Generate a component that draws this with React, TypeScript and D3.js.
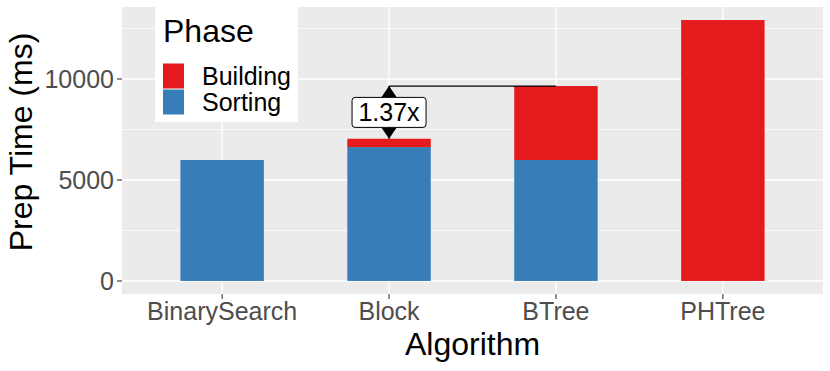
import React, { useRef, useEffect } from 'react';
import { select, scaleLinear, scalePoint, stack, max } from 'd3';

const algorithms = ['BinarySearch', 'Block', 'BTree', 'PHTree'];
const phases = ['Sorting', 'Building'];
const sortingMs = [5990, 6630, 5990, 0];
const buildingMs = [0, 412, 3662, 12920];
const yTicks = [0, 5000, 10000];
const yMinorTicks = [2500, 7500, 12500];
const phaseColors: Record<string, string> = { Building: '#E41A1C', Sorting: '#377EB8' };
// legend order top to bottom
const legendOrder = ['Building', 'Sorting'];
// speedup annotation between these two
const annotFrom = 'Block';
const annotTo = 'BTree';

const W = 830;
const H = 371;
const FONT = '"Liberation Sans", Arial, Helvetica, sans-serif';

export default function App() {
  const svgRef = useRef<SVGSVGElement>(null);

  useEffect(() => {
    const svg = select(svgRef.current);
    svg.selectAll('*').remove();

    const panel = { left: 122, right: 823, top: 7, bottom: 294 };

    const rows = algorithms.map((a, i) => ({ algo: a, Sorting: sortingMs[i], Building: buildingMs[i] }));
    const layers = stack<any>().keys(phases)(rows);
    const top = max(layers, (l) => max(l, (s) => s[1])) as number;

    const yScale = scaleLinear()
      .domain([-0.05 * top, 1.05 * top])
      .range([panel.bottom, panel.top]);

    const xScale = scalePoint<string>()
      .domain(algorithms)
      .range([panel.left, panel.right])
      .padding(0.6);
    const barW = xScale.step() * 0.5;

    // panel background
    svg.append('rect')
      .attr('x', panel.left).attr('y', panel.top)
      .attr('width', panel.right - panel.left).attr('height', panel.bottom - panel.top)
      .attr('fill', '#EBEBEB');

    // grid
    svg.selectAll('.minor').data(yMinorTicks).join('line')
      .attr('x1', panel.left).attr('x2', panel.right)
      .attr('y1', (d) => yScale(d)).attr('y2', (d) => yScale(d))
      .attr('stroke', '#fff').attr('stroke-width', 0.7);
    svg.selectAll('.majorY').data(yTicks).join('line')
      .attr('x1', panel.left).attr('x2', panel.right)
      .attr('y1', (d) => yScale(d)).attr('y2', (d) => yScale(d))
      .attr('stroke', '#fff').attr('stroke-width', 1.4);
    svg.selectAll('.majorX').data(algorithms).join('line')
      .attr('x1', (d) => xScale(d)!).attr('x2', (d) => xScale(d)!)
      .attr('y1', panel.top).attr('y2', panel.bottom)
      .attr('stroke', '#fff').attr('stroke-width', 1.4);

    // bars
    svg.selectAll('.layer').data(layers).join('g')
      .attr('fill', (l) => phaseColors[l.key])
      .selectAll('rect').data((l) => l).join('rect')
      .attr('x', (s: any) => xScale(s.data.algo)! - barW / 2)
      .attr('width', barW)
      .attr('y', (s) => yScale(s[1]))
      .attr('height', (s) => yScale(s[0]) - yScale(s[1]));

    // axes ticks + labels
    const yAx = svg.append('g');
    yTicks.forEach((t) => {
      yAx.append('line').attr('x1', panel.left - 5).attr('x2', panel.left)
        .attr('y1', yScale(t)).attr('y2', yScale(t)).attr('stroke', '#333').attr('stroke-width', 1.1);
      yAx.append('text').attr('x', panel.left - 8).attr('y', yScale(t)).attr('dy', '0.36em')
        .attr('text-anchor', 'end').attr('fill', '#4D4D4D')
        .style('font', `25px ${FONT}`).text(t);
    });
    const xAx = svg.append('g');
    algorithms.forEach((a) => {
      xAx.append('line').attr('x1', xScale(a)!).attr('x2', xScale(a)!)
        .attr('y1', panel.bottom).attr('y2', panel.bottom + 5).attr('stroke', '#333').attr('stroke-width', 1.1);
      xAx.append('text').attr('x', xScale(a)!).attr('y', panel.bottom + 26)
        .attr('text-anchor', 'middle').attr('fill', '#4D4D4D')
        .style('font', `25px ${FONT}`).text(a);
    });

    svg.append('text')
      .attr('x', (panel.left + panel.right) / 2).attr('y', 355)
      .attr('text-anchor', 'middle').style('font', `32px ${FONT}`).text('Algorithm');
    svg.append('text')
      .attr('transform', `translate(32,142) rotate(-90)`)
      .attr('text-anchor', 'middle').style('font', `32px ${FONT}`).text('Prep Time (ms)');

    // annotation
    const iFrom = algorithms.indexOf(annotFrom);
    const iTo = algorithms.indexOf(annotTo);
    const vFrom = sortingMs[iFrom] + buildingMs[iFrom];
    const vTo = sortingMs[iTo] + buildingMs[iTo];
    const ax = xScale(annotFrom)!;
    const yA = yScale(vTo);
    const yB = yScale(vFrom);
    const g = svg.append('g');
    g.append('line').attr('x1', ax).attr('x2', xScale(annotTo)!)
      .attr('y1', yA).attr('y2', yA).attr('stroke', '#000').attr('stroke-width', 1.3);
    g.append('line').attr('x1', ax).attr('x2', ax)
      .attr('y1', yA).attr('y2', yB).attr('stroke', '#000').attr('stroke-width', 1.3);
    const ah = 11, aw = 7.5;
    g.append('path').attr('d', `M${ax},${yA} L${ax - aw},${yA + ah} L${ax + aw},${yA + ah} Z`).attr('fill', '#000');
    g.append('path').attr('d', `M${ax},${yB} L${ax - aw},${yB - ah} L${ax + aw},${yB - ah} Z`).attr('fill', '#000');
    const midY = (yA + yB) / 2;
    const lbl = (vTo / vFrom).toFixed(2) + 'x';
    g.append('rect').attr('x', ax - 37).attr('y', midY - 15).attr('width', 74).attr('height', 30)
      .attr('rx', 3).attr('fill', '#fff').attr('stroke', '#000').attr('stroke-width', 1);
    g.append('text').attr('x', ax).attr('y', midY).attr('dy', '0.36em')
      .attr('text-anchor', 'middle').style('font', `25px ${FONT}`).text(lbl);

    // legend
    const lg = svg.append('g');
    lg.append('rect').attr('x', 155).attr('y', 7).attr('width', 143).attr('height', 115).attr('fill', '#fff');
    lg.append('text').attr('x', 163).attr('y', 42).style('font', `32px ${FONT}`).text('Phase');
    legendOrder.forEach((p, i) => {
      lg.append('rect').attr('x', 163).attr('y', 63.5 + i * 26).attr('width', 21).attr('height', 25)
        .attr('fill', phaseColors[p]);
      lg.append('text').attr('x', 202).attr('y', 76 + i * 26).attr('dy', '0.36em')
        .style('font', `25px ${FONT}`).text(p);
    });
  }, []);

  return (
    <div style={{ position: 'absolute', left: 0, top: 0 }}>
      <svg ref={svgRef} width={W} height={H} style={{ display: 'block', background: '#fff' }} />
    </div>
  );
}
